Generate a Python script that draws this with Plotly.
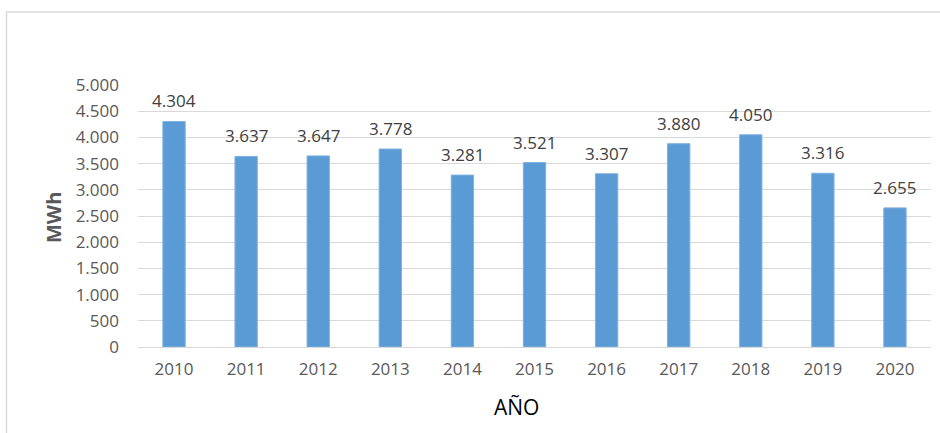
import plotly.graph_objects as go

years = ["2010", "2011", "2012", "2013", "2014", "2015", "2016", "2017", "2018", "2019", "2020"]
mwh = [4304, 3637, 3647, 3778, 3281, 3521, 3307, 3880, 4050, 3316, 2655]

W, H = 940, 433
L, R, T, B = 138, 9, 85, 86
pw, ph = W - L - R, H - T - B


def px_x(p):
    # pixel -> paper x
    return (p - L) / pw


def px_y(p):
    # pixel -> paper y
    return (H - B - p) / ph


fig = go.Figure(
    go.Bar(
        x=years,
        y=mwh,
        marker=dict(color="#5B9BD5", line=dict(color="#7FB2E0", width=1)),
    ),
    layout=dict(xaxis=dict(type="category")),
)

# data labels above the bars, Excel style
# (category axis: numeric-looking names are read as indices, so use the index)
for i, v in enumerate(mwh):
    fig.add_annotation(
        x=i, y=v, text=f"{v:,}".replace(",", "."),
        showarrow=False, yanchor="bottom", yshift=7,
        font=dict(size=17, color="#404040"),
    )

fig.add_annotation(
    x=px_x(53), y=px_y(218), xref="paper", yref="paper",
    xanchor="center", yanchor="middle",
    text="<b>MWh</b>", textangle=-90, showarrow=False,
    font=dict(size=20, color="#595959"),
)
fig.add_annotation(
    x=px_x(516), y=px_y(407), xref="paper", yref="paper",
    xanchor="center", yanchor="middle",
    text="AÑO", showarrow=False,
    font=dict(size=21, color="#000000"),
)

# chart frame (top and left edges visible)
fig.add_shape(type="line", xref="paper", yref="paper",
              x0=px_x(6), x1=px_x(945), y0=px_y(12), y1=px_y(12),
              line=dict(color="#D9D9D9", width=1.5))
fig.add_shape(type="line", xref="paper", yref="paper",
              x0=px_x(6.5), x1=px_x(6.5), y0=px_y(12), y1=px_y(440),
              line=dict(color="#D9D9D9", width=1.5))

fig.update_layout(
    width=W, height=H,
    margin=dict(l=L, r=R, t=T, b=B),
    plot_bgcolor="white", paper_bgcolor="white",
    font=dict(family="Open Sans", size=17, color="#595959"),
    separators=",.",
    bargap=0.69,
    showlegend=False,
)
fig.update_yaxes(
    range=[0, 5000], dtick=500, tickformat=",d",
    showgrid=True, gridcolor="#D9D9D9", gridwidth=1,
    zeroline=True, zerolinecolor="#D9D9D9", zerolinewidth=1,
    ticks="", ticklabelstandoff=18, automargin=False,
)
fig.update_xaxes(
    range=[-0.5, len(years) - 0.5],
    showgrid=False, ticks="", showline=False, ticklabelstandoff=10,
    automargin=False,
)

fig.write_html(
    "out.html",
    config={"displayModeBar": False},
    post_script="document.body.style.margin='0';",
)
